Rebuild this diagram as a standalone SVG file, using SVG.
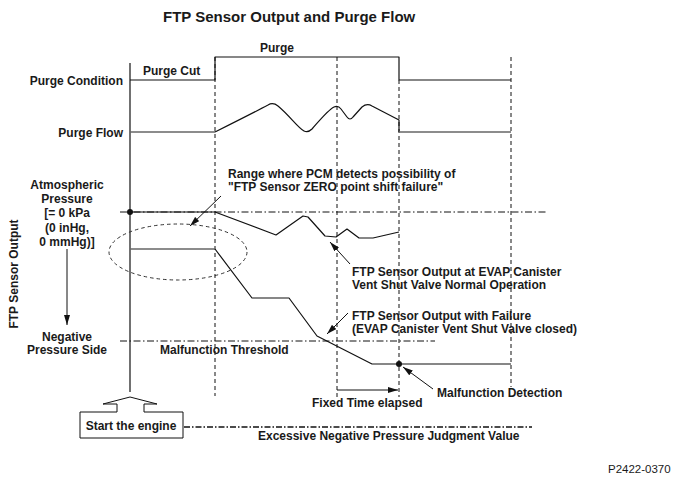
<svg xmlns="http://www.w3.org/2000/svg" width="679" height="482" viewBox="0 0 679 482">
<defs>
<marker id="ah" viewBox="0 0 10 6" refX="10" refY="3" markerWidth="10" markerHeight="6" markerUnits="userSpaceOnUse" orient="auto">
<path d="M0,0 L10,3 L0,6 Z" fill="#111"/>
</marker>
</defs>
<style>
text{font-family:"Liberation Sans",Arial,sans-serif;font-size:12px;font-weight:bold;fill:#1a1a1a}
.t{font-size:15px}
.r{font-weight:normal;font-size:11.5px}
.m{text-anchor:middle}
.e{text-anchor:end}
.ln{fill:none;stroke:#111;stroke-width:1.2;stroke-linejoin:round}
.gr{fill:none;stroke:#666;stroke-width:1.6}
.dash{fill:none;stroke:#111;stroke-width:1;stroke-dasharray:4 3}
.dd{fill:none;stroke:#111;stroke-width:1;stroke-dasharray:7 2.5 1.5 2.5}
.ddb{fill:none;stroke:#111;stroke-width:1.6;stroke-dasharray:6 2 1.5 2}
.arr{fill:none;stroke:#111;stroke-width:1;marker-end:url(#ah)}
</style>
<rect width="679" height="482" fill="#fff"/>
<text class="t" x="163" y="22">FTP Sensor Output and Purge Flow</text>

<g id="grid">
<line class="dash" x1="215" y1="57" x2="215" y2="396"/>
<line class="dash" x1="337" y1="57" x2="337" y2="397"/>
<line class="dash" x1="399" y1="80" x2="399" y2="397"/>
<line class="dash" x1="511" y1="57" x2="511" y2="387"/>
<line class="dd" x1="120" y1="212" x2="548" y2="212"/>
<line class="dd" x1="120" y1="341" x2="435" y2="341"/>
<line class="ln" x1="130" y1="63" x2="130" y2="392"/>
</g>

<g id="purge-condition">
<text class="e" x="123" y="85">Purge Condition</text>
<text x="143" y="75">Purge Cut</text>
<text class="m" x="277" y="52">Purge</text>
<path class="ln" d="M130,80 H215 V57 H399 V80 H511"/>
</g>

<g id="purge-flow">
<text class="e" x="123" y="137">Purge Flow</text>
<path class="gr" d="M130,132 H215"/>
<path class="ln" d="M215,132 C235,122 255,112 268,105 Q273,102 278,106 C290,116 298,128 304,131 Q308,133 312,129 C320,120 328,110 334,107 Q338,105 341,109 L347,117 Q350,121 353,117 L362,107 Q367,103 372,106 L399,120 V132"/>
<path class="gr" d="M399,132 H511"/>
</g>

<g id="ftp-axis">
<text class="m" transform="translate(18,274) rotate(-90)">FTP Sensor Output</text>
<text class="m" x="67" y="189">Atmospheric</text>
<text class="m" x="67" y="203">Pressure</text>
<text class="m" x="67" y="217">[= 0 kPa</text>
<text class="m" x="67" y="232">(0 inHg,</text>
<text class="m" x="67" y="246">0 mmHg)]</text>
<line class="arr" x1="67" y1="249" x2="67" y2="325"/>
<text class="m" x="67" y="341">Negative</text>
<text class="m" x="67" y="354">Pressure Side</text>
</g>

<g id="normal-output">
<path class="ln" d="M130,212 H215 L276,235 L303,216 L308,217 L325,236 L336,237 L347,229 L359,238 L373,238 L399,232"/>
<circle cx="130" cy="212" r="3" fill="#111"/>
<text x="352" y="276">FTP Sensor Output at EVAP Canister</text>
<text x="352" y="289">Vent Shut Valve Normal Operation</text>
</g>

<g id="failure-output">
<path class="gr" d="M130,249 H215"/>
<path class="ln" d="M215,249 L252,298 L289,298 L317,336 L372,364 H511"/>
<circle cx="399" cy="364" r="3" fill="#111"/>
<text x="352" y="320">FTP Sensor Output with Failure</text>
<text x="352" y="333">(EVAP Canister Vent Shut Valve closed)</text>
</g>

<g id="range">
<ellipse cx="178" cy="252" rx="69" ry="28" fill="none" stroke="#333" stroke-width="1" stroke-dasharray="3.5 3"/>
<text x="228" y="178">Range where PCM detects possibility of</text>
<text x="228" y="191">"FTP Sensor ZERO point shift failure"</text>
</g>

<g id="threshold">
<text x="160" y="354">Malfunction Threshold</text>
</g>

<g id="fixed-time">
<text x="312" y="407">Fixed Time elapsed</text>
</g>

<g id="detection">
<text x="437" y="397">Malfunction Detection</text>
</g>

<g id="start-engine">
<path fill="#fff" stroke="#111" stroke-width="1" d="M80,412 H117 V404 H103 L130,397 L157,404 H144 V412 H183 V438 H80 Z"/>
<text class="m" x="131" y="430">Start the engine</text>
</g>

<g id="judgment">
<line class="ddb" x1="184" y1="427" x2="532" y2="427"/>
<text x="258" y="440">Excessive Negative Pressure Judgment Value</text>
</g>

<g id="connectors">
<line class="arr" x1="221" y1="196" x2="190" y2="226"/>
<line class="arr" x1="350" y1="264" x2="330" y2="242"/>
<line class="arr" x1="348" y1="313" x2="327" y2="334"/>
<line class="arr" x1="337" y1="390" x2="398" y2="390"/>
<line class="arr" x1="433" y1="389" x2="403" y2="367"/>
</g>

<text class="r" x="608" y="473">P2422-0370</text>
</svg>
